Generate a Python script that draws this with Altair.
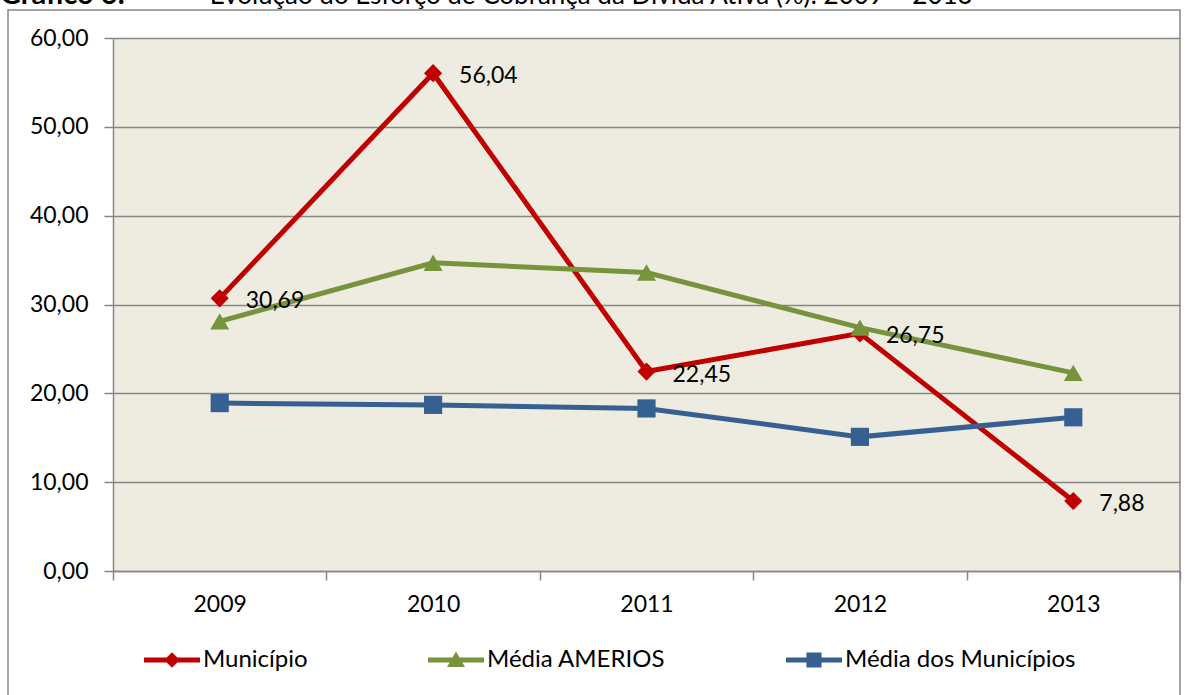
import altair as alt
import pandas as pd

years = ["2009", "2010", "2011", "2012", "2013"]
series = ["Município", "Média AMERIOS", "Média dos Municípios"]
municipio = [30.69, 56.04, 22.45, 26.75, 7.88]
amerios = [28.1, 34.7, 33.6, 27.4, 22.3]
media_mun = [18.9, 18.7, 18.3, 15.1, 17.3]
colors = ["#C00000", "#77933C", "#376092"]
title_bold = "Gráfico 6:"
title_rest = "– Evolução do Esforço de Cobrança da Dívida Ativa (%): 2009 – 2013"

rows = []
for s, vals in zip(series, [municipio, amerios, media_mun]):
    for y, v in zip(years, vals):
        rows.append({"year": y, "series": s, "value": v})
df = pd.DataFrame(rows)

FONT = "Lato"
W, H = 1067, 533

cs = alt.Scale(domain=series, range=colors)
xenc = alt.X("year:O", scale=alt.Scale(type="band", paddingInner=0, paddingOuter=0),
             axis=alt.Axis(title=None, tickBand="extent", labelAngle=0, labelFont=FONT,
                           labelFontSize=23, labelColor="#000000", labelPadding=13,
                           tickSize=9, tickColor="#868686", tickWidth=1.5,
                           domainColor="#868686", domainWidth=1.5, grid=False))
yenc = alt.Y("value:Q", scale=alt.Scale(domain=[0, 60], nice=False),
             axis=alt.Axis(title=None, values=[0, 10, 20, 30, 40, 50, 60],
                           labelExpr="replace(format(datum.value, '.2f'), '.', ',')",
                           labelFont=FONT, labelFontSize=23, labelColor="#000000",
                           labelPadding=16, tickSize=9, tickColor="#868686", tickWidth=1.5,
                           domainColor="#868686", domainWidth=1.5,
                           grid=True, gridColor="#868686", gridWidth=1.5))

leg = alt.Legend(
    title=None, orient="none", direction="horizontal", legendX=31, legendY=594,
    labelFont=FONT, labelFontSize=24, labelColor="#000000", labelOffset=3,
    symbolSize=3136, symbolOpacity=1, symbolStrokeWidth=0, columnPadding=120,
    labelLimit=400)
cenc = alt.Color("series:N", scale=cs, legend=leg)

base = alt.Chart(df)
shapes = ["diamond", "triangle-up", "square"]
sizes = [330, 360, 330]
layers = []
for s, shp, sz in zip(series, shapes, sizes):
    sub = base.transform_filter(alt.datum.series == s)
    layers.append(sub.mark_line(strokeWidth=5).encode(x=xenc, y=yenc, color=cenc))
    layers.append(sub.mark_point(shape=shp, filled=True, opacity=1, size=sz).encode(
        x=xenc, y=yenc, color=cenc))

leg_paths = [
    "M-1,-0.085L1,-0.085L1,0.085L-1,0.085Z M0,-0.28L0.28,0L0,0.28L-0.28,0Z",
    "M-1,-0.085L1,-0.085L1,0.085L-1,0.085Z M0,-0.3L0.32,0.25L-0.32,0.25Z",
    "M-1,-0.085L1,-0.085L1,0.085L-1,0.085Z M-0.27,-0.27L0.27,-0.27L0.27,0.27L-0.27,0.27Z",
]
legend_layer = base.mark_point(filled=True, opacity=0).encode(
    x=xenc, y=yenc, color=cenc,
    shape=alt.Shape("series:N", scale=alt.Scale(domain=series, range=leg_paths), legend=leg),
)

labels = base.transform_filter(alt.datum.series == series[0]).transform_calculate(
    lbl="replace(format(datum.value, '.2f'), '.', ',')"
).mark_text(align="left", baseline="middle", dx=26, dy=3, font=FONT, fontSize=23,
            color="#000000").encode(x=xenc, y=yenc, text="lbl:N")

tdf = pd.DataFrame({"t": [title_bold], "r": [title_rest]})
t1 = alt.Chart(tdf).mark_text(align="left", baseline="alphabetic", font=FONT, fontSize=29,
                              fontWeight="bold", color="#000000").encode(
    x=alt.value(-113), y=alt.value(-34), text="t:N")
t2 = alt.Chart(tdf).mark_text(align="left", baseline="alphabetic", font=FONT, fontSize=26,
                              color="#000000").encode(
    x=alt.value(75), y=alt.value(-34), text="r:N")
frame = alt.Chart(tdf).mark_rect(filled=False, stroke="#868686", strokeWidth=1.5).encode(
    x=alt.value(-105), x2=alt.value(1067), y=alt.value(-28), y2=alt.value(720))

chart = alt.layer(frame, *layers, labels, legend_layer, t1, t2).properties(
    width=W, height=H,
    autosize=alt.AutoSizeParams(type="none"),
    padding={"left": 113, "top": 38, "right": 15, "bottom": 124},
    background="#FFFFFF",
).configure_view(fill="#EEECE1", strokeWidth=0)

chart.save("out.html", embed_options={"renderer": "svg", "actions": False})
